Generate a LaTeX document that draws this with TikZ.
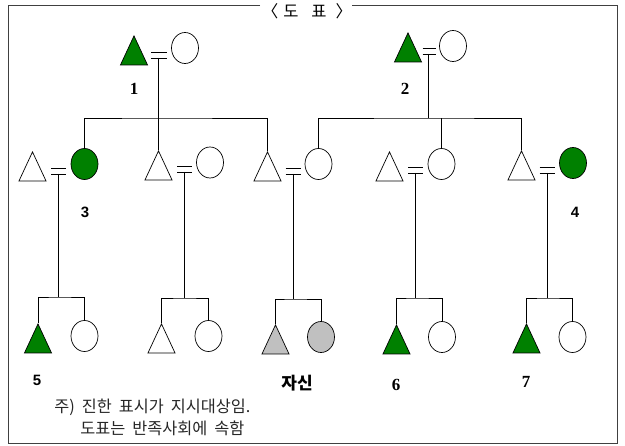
\documentclass[tikz,border=0pt]{standalone}
\usepackage{fontspec}
\setmainfont{Liberation Serif}
\newfontfamily\kr{Noto Sans CJK KR}
\newfontfamily\sansf{Liberation Sans}
\usetikzlibrary{shapes.geometric}
\definecolor{pgreen}{RGB}{0,128,0}
\definecolor{pgray}{RGB}{192,192,192}
\newcommand\ksp{\hspace{7pt}}
\begin{document}
\begin{tikzpicture}[x=1pt,y=-1pt,line width=0.8pt,
  male/.style={draw,isosceles triangle,shape border rotate=90,isosceles triangle stretches,
    minimum width=27pt,minimum height=29pt,inner sep=0pt,anchor=apex,line width=0.7pt},
  fem/.style={draw,ellipse,minimum width=27pt,minimum height=31pt,inner sep=0pt,line width=0.7pt},
  sernum/.style={font=\fontsize{17}{17}\selectfont\bfseries},
  sansnum/.style={font=\sansf\fontsize{15}{15}\selectfont\bfseries},
  note/.style={font=\kr\fontsize{16.3}{16.3}\selectfont,anchor=west,inner sep=0pt,text=black!85}]
\useasboundingbox (0,0) rectangle (625,446);
% frame
\draw[line width=0.9pt,black!75] (260,5) -- (8,5) -- (8,443) -- (617,443) -- (617,5) -- (352,5);
\node[font=\kr\fontsize{16.5}{16.5}\selectfont,inner sep=0pt] (title) at (307,11) {〈\hspace{5pt}도\hspace{13pt}표\hspace{9pt}〉};

% generation 1
\node[male,fill=pgreen] (m1) at (134,35) {};
\node[fem] (f1) at (185,48) {};
\coordinate (e1) at (158.5,58);
\draw (e1)+(-7.5,0) -- +(8.5,0);
\draw (e1)+(-7.5,-6) -- +(8.5,-6);
\node[sernum] (l1) at (134,89) {1};

\node[male,fill=pgreen] (m2) at (408,32) {};
\node[fem] (f2) at (453,46) {};
\coordinate (e2) at (428,54);
\draw (e2)+(-5.5,0) -- +(7.5,0);
\draw (e2)+(-5.5,-6) -- +(7.5,-6);
\node[sernum] (l2) at (405,89) {2};

% generation 2
\node[male] (mA) at (32.5,151) {};
\node[fem,fill=pgreen] (fA) at (84.5,164) {};
\coordinate (eA) at (58.5,174);
\node[male] (mB) at (158.5,150) {};
\node[fem] (fB) at (210,162.5) {};
\coordinate (eB) at (184.5,172);
\node[male] (mC) at (267.5,151) {};
\node[fem] (fC) at (318.5,164) {};
\coordinate (eC) at (293,174);
\node[male] (mD) at (389.5,151) {};
\node[fem] (fD) at (441.5,164) {};
\coordinate (eD) at (415.5,173);
\node[male] (mE) at (521.5,150) {};
\node[fem,fill=pgreen] (fE) at (573,163) {};
\coordinate (eE) at (547,173);
\foreach \e in {eA,eB,eC,eD,eE}{
  \draw (\e)+(-7.5,0) -- +(7.5,0);
  \draw (\e)+(-7.5,-6) -- +(7.5,-6);
}
\node[sansnum] (l3) at (85,212) {3};
\node[sansnum] (l4) at (575,212) {4};

% sibling bars of generation 2
\coordinate (b1) at (e1 |- 0,118);
\draw (e1) -- (b1);
\draw (fA.north) |- (b1) -| (mC.apex);
\draw (mB.apex) -- (mB.apex |- b1);
\coordinate (b2) at (e2 |- 0,118);
\draw (e2) -- (b2);
\draw (fC.north) |- (b2) -| (mE.apex);
\draw (fD.north) -- (fD.north |- b2);

% generation 3
\node[male,fill=pgreen] (m5) at (38,323) {};
\node[fem] (f5) at (84.5,336) {};
\node[male] (mb3) at (161.5,323) {};
\node[fem] (fb3) at (208.5,336) {};
\node[male,fill=pgray] (ms) at (275.5,324) {};
\node[fem,fill=pgray] (fs) at (321,337) {};
\node[male,fill=pgreen] (m6) at (396.5,324) {};
\node[fem] (f6) at (442,337) {};
\node[male,fill=pgreen] (m7) at (526.5,323) {};
\node[fem] (f7) at (572.5,337) {};

\coordinate (cA) at (eA |- 0,297);
\coordinate (cB) at (eB |- 0,298);
\coordinate (cC) at (eC |- 0,299);
\coordinate (cD) at (eD |- 0,298);
\coordinate (cE) at (eE |- 0,298);
\draw (eA) -- (cA); \draw (m5.apex) |- (cA) -| (f5.north);
\draw (eB) -- (cB); \draw (mb3.apex) |- (cB) -| (fb3.north);
\draw (eC) -- (cC); \draw (ms.apex) |- (cC) -| (fs.north);
\draw (eD) -- (cD); \draw (m6.apex) |- (cD) -| (f6.north);
\draw (eE) -- (cE); \draw (m7.apex) |- (cE) -| (f7.north);

\node[sansnum] (l5) at (37,380) {5};
\node[font=\kr\fontsize{17}{17}\selectfont\bfseries] (ego) at (297,383) {자신};
\node[sernum] (l6) at (396,385) {6};
\node[sernum] (l7) at (526,382) {7};

\node[note] (n1) at (54,407) {주)\ksp 진한\ksp 표시가\ksp 지시대상임.};
\node[note] (n2) at (80,428) {도표는\ksp 반족사회에\ksp 속함};
\end{tikzpicture}
\end{document}
